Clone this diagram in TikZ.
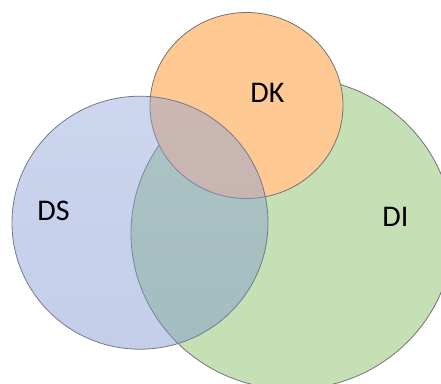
\documentclass[tikz,border=0pt]{standalone}
\usepackage{fontspec}
\setmainfont{Carlito}
\usetikzlibrary{shapes.geometric}
\definecolor{dstop}{RGB}{142,163,216}
\definecolor{dsbottom}{RGB}{124,146,207}
\definecolor{dsborder}{RGB}{112,122,142}
\definecolor{dkorange}{RGB}{255,201,148}
\definecolor{digreen}{RGB}{197,224,180}
\tikzset{
  % Define style for the set circles
  setcircle/.style={
    ellipse,
    draw=black!55, line width=0.8pt,
    inner sep=0pt},
  % Define style for the set names
  setname/.style={
    font=\fontsize{30}{36}\selectfont,
    inner sep=0pt},
}
\begin{document}
\begin{tikzpicture}[x=1pt, y=1pt]
  \path[use as bounding box, clip] (0,0) rectangle (441,383);
  % sets
  \node[setcircle, fill=digreen, minimum width=322pt, minimum height=312pt] (di) at (292,149.7) {};
  \node[setcircle, fill=dkorange, minimum width=193pt, minimum height=186pt] (dk) at (246.5,277.5) {};
  \node[setcircle, top color=dstop, bottom color=dsbottom, fill opacity=.45,
    draw=dsborder, minimum width=256pt, minimum height=253pt] (ds) at (140,160.3) {};
  % names
  \node[setname] (dsname) at (53.5,172.5) {DS};
  \node[setname] (dkname) at (267.5,290.5) {DK};
  \node[setname] (diname) at (395.5,166) {DI};
\end{tikzpicture}
\end{document}
